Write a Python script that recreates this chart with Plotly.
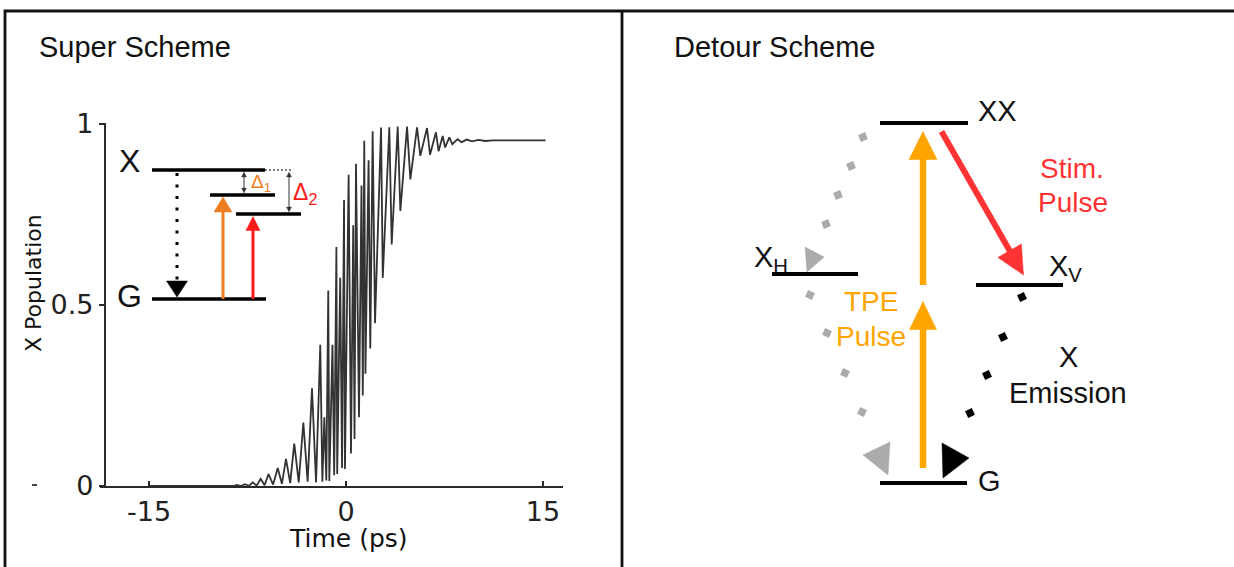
import numpy as np
import plotly.graph_objects as go

W, H = 1234, 567

# ---------------------------------------------------------------------------
# Data: X population during the SUPER pulse sequence (alternating maxima/minima)
# ---------------------------------------------------------------------------
time_ps = [
    -15.0, -8.6,
    -8.3, -8.0, -7.7, -7.4, -7.1, -6.8, -6.5, -6.2,
    -5.9, -5.55, -5.2, -4.88, -4.57, -4.25, -3.94, -3.6,
    -3.25, -2.92, -2.59, -2.28, -1.96, -1.8, -1.65, -1.5,
    -1.35, -1.27, -1.03, -0.9, -0.73, -0.67, -0.44, -0.3,
    -0.15, -0.08, 0.2, 0.38, 0.55, 0.65, 0.76, 0.99,
    1.18, 1.28, 1.39, 1.48, 1.72, 1.85, 2.03, 2.21,
    2.67, 2.8, 3.3, 3.48, 3.94, 4.14, 4.65, 4.9,
    5.41, 5.66, 6.17, 6.4, 6.85, 7.05, 7.36, 7.55,
    7.87, 8.1, 8.5, 8.8, 9.2, 9.6, 10.1, 10.6,
    11.2, 15.2,
]
x_population = [
    0.0, 0.0,
    0.003, 0.0, 0.005, 0.0, 0.01, 0.001, 0.02, 0.002,
    0.033, 0.004, 0.05, 0.006, 0.075, 0.008, 0.117, 0.01,
    0.175, 0.012, 0.27, 0.01, 0.39, 0.012, 0.19, 0.015,
    0.54, 0.014, 0.39, 0.03, 0.66, 0.033, 0.575, 0.05,
    0.79, 0.047, 0.86, 0.09, 0.72, 0.13, 0.89, 0.19,
    0.83, 0.25, 0.954, 0.31, 0.9, 0.38, 0.98, 0.45,
    0.99, 0.575, 0.991, 0.667, 0.993, 0.76, 0.993, 0.847,
    0.991, 0.912, 0.989, 0.915, 0.977, 0.925, 0.967, 0.935,
    0.963, 0.944, 0.958, 0.95, 0.957, 0.952, 0.956, 0.953,
    0.955, 0.955,
]

x_tick_vals = [-15, 0, 15]
x_tick_text = ["-15", "0", "15"]
y_tick_vals = [0, 0.5, 1]
y_tick_text = ["0", "0.5", "1"]

# ---------------------------------------------------------------------------
# Level-scheme geometry, in the overlay frame (1 unit = 1 px, y downwards)
# ---------------------------------------------------------------------------
super_levels = [(152, 265, 170), (210, 275, 195), (236, 301, 214), (152, 266, 299)]
detour_levels = [(880, 968, 123), (772, 858, 274), (976, 1063, 285), (880, 967, 483)]
# detuning brackets: x, top, bottom
detuning_gaps = [(244, 172, 193), (289, 172, 212)]

ORANGE_L = "#EE7D22"
RED_L = "#FF1A1A"
ORANGE_R = "#FFA500"
RED_R = "#FF3333"
GREY = "#ABABAB"

gray_dots_top = ([863, 851, 838, 826], [137, 166, 195, 224])
gray_dots_bottom = ([810, 827, 845, 862], [295, 333, 373, 412])
black_dots = ([1022, 1003, 987, 970], [297, 337, 375, 413])

gray_head_top = [(805, 247), (824, 257), (807, 272)]
gray_head_bottom = [(890, 442), (863, 455), (888, 475)]
black_head = [(942, 443), (969, 458), (943, 478)]

FONT_SANS = "Liberation Sans, Arial, sans-serif"
FONT_AXIS = "DejaVu Sans, Verdana, sans-serif"

fig = go.Figure()

fig.add_trace(go.Scatter(
    x=time_ps, y=x_population, mode="lines",
    line=dict(color="#333333", width=1.8),
    xaxis="x", yaxis="y", showlegend=False, hoverinfo="skip",
))

# dotted decay paths drawn as square dots
for (xs, ys), col, ang in [
    (gray_dots_top, GREY, -22),
    (gray_dots_bottom, GREY, 25),
    (black_dots, "black", -25),
]:
    fig.add_trace(go.Scatter(
        x=xs, y=ys, mode="markers", xaxis="x2", yaxis="y2",
        marker=dict(symbol="square", size=7.5, color=col, angle=ang, line=dict(width=0)),
        showlegend=False, hoverinfo="skip",
    ))

shapes = []


def hline(x0, x1, y, width, color="black", dash="solid"):
    shapes.append(dict(type="line", xref="x2", yref="y2", x0=x0, x1=x1, y0=y, y1=y,
                       line=dict(color=color, width=width, dash=dash)))


def tri(pts, color, lw=0.5):
    p = "M " + " L ".join(f"{x},{y}" for x, y in pts) + " Z"
    shapes.append(dict(type="path", xref="x2", yref="y2", path=p,
                       fillcolor=color, line=dict(color=color, width=lw)))


def arrow(x0, y0, x1, y1, color, width, head_len, head_w):
    d = np.array([x1 - x0, y1 - y0], float)
    u = d / np.linalg.norm(d)
    n = np.array([-u[1], u[0]])
    base = np.array([x1, y1]) - u * head_len
    shapes.append(dict(type="line", xref="x2", yref="y2", x0=x0, y0=y0,
                       x1=base[0] + u[0], y1=base[1] + u[1],
                       line=dict(color=color, width=width)))
    a = base + n * head_w / 2
    b = base - n * head_w / 2
    tri([(a[0], a[1]), (x1, y1), (b[0], b[1])], color)


# outer frame and panel divider
shapes.append(dict(type="rect", xref="x2", yref="y2", x0=5, y0=11, x1=1250, y1=620,
                   line=dict(color="#111", width=2.8)))
shapes.append(dict(type="line", xref="x2", yref="y2", x0=622, y0=11, x1=622, y1=620,
                   line=dict(color="#111", width=2.8)))

# left scheme
for x0, x1, y in super_levels:
    hline(x0, x1, y, 3.5)
hline(265, 293, 170, 1.3, color="#555", dash="2px,2px")
shapes.append(dict(type="line", xref="x2", yref="y2", x0=177, y0=173, x1=177, y1=282,
                   line=dict(color="black", width=3, dash="3px,8.5px")))
tri([(166.5, 281), (187.5, 281), (177, 297)], "black")
arrow(223, 299, 223, 197, ORANGE_L, 3, 15, 18)
arrow(253, 299, 253, 216.5, RED_L, 3, 14, 14)

# double-headed brackets marking the detunings
for xg, ya, yb in detuning_gaps:
    shapes.append(dict(type="line", xref="x2", yref="y2", x0=xg, x1=xg, y0=ya + 3,
                       y1=yb - 3, line=dict(color="#333", width=1)))
    tri([(xg - 2.5, ya + 5), (xg + 2.5, ya + 5), (xg, ya)], "#333", lw=0.3)
    tri([(xg - 2.5, yb - 5), (xg + 2.5, yb - 5), (xg, yb)], "#333", lw=0.3)

# right scheme
for x0, x1, y in detour_levels:
    hline(x0, x1, y, 4)
arrow(923, 285, 923, 131.5, ORANGE_R, 6.5, 28, 28)
arrow(923, 468, 923, 301.5, ORANGE_R, 6.5, 28, 27)
arrow(941.5, 131.5, 1023.5, 275, RED_R, 6, 28, 27)
tri(gray_head_top, GREY)
tri(gray_head_bottom, GREY)
tri(black_head, "black")

# stray tick mark at the lower left
shapes.append(dict(type="line", xref="x2", yref="y2", x0=32, y0=485, x1=37, y1=485,
                   line=dict(color="#444", width=2)))

annotations = []


def label(x, y, text, size, color="#111", family=FONT_SANS, xanchor="center",
          yanchor="middle", angle=0):
    annotations.append(dict(x=x, y=y, xref="x2", yref="y2", text=text, showarrow=False,
                            font=dict(size=size, color=color, family=family),
                            xanchor=xanchor, yanchor=yanchor, textangle=angle))


label(37, 47, "Super Scheme", 29, xanchor="left")
label(672, 47, "Detour Scheme", 29, xanchor="left")

label(129, 161, "X", 32)
label(129, 296, "G", 32)
label(249, 183, "Δ<sub>1</sub>", 19, color=ORANGE_L, xanchor="left")
label(291, 193, "Δ<sub>2</sub>", 23, color=RED_L, xanchor="left")

label(997, 111, "XX", 29)
label(752, 259, "X<sub>H</sub>", 29, xanchor="left")
label(1047, 268, "X<sub>V</sub>", 29, xanchor="left")
label(976, 481, "G", 29, xanchor="left")
label(1072, 168, "Stim.", 28, color=RED_R)
label(1073, 202, "Pulse", 28, color=RED_R)
label(871, 301, "TPE", 28, color=ORANGE_R)
label(871, 336, "Pulse", 28, color=ORANGE_R)
label(1068, 357, "X", 29)
label(1068, 393, "Emission", 29)

# axis titles
label(348, 538, "Time (ps)", 25, family=FONT_AXIS)
label(33, 283, "X Population", 22, family=FONT_AXIS, angle=-90)

x_lo, x_hi = 100, 563
y_top, y_bot = 123, 486
px_per_ps = 13.13
t0_px = 346

fig.update_layout(
    template="none",
    width=W, height=H,
    autosize=False,
    margin=dict(l=0, r=0, t=0, b=0, pad=0),
    paper_bgcolor="white", plot_bgcolor="rgba(0,0,0,0)",
    showlegend=False,
    xaxis=dict(
        domain=[x_lo / W, x_hi / W],
        range=[(x_lo - t0_px) / px_per_ps, (x_hi - t0_px) / px_per_ps],
        anchor="y", showline=True, linecolor="#2a2a2a", linewidth=2.2,
        ticks="inside", ticklen=5, tickwidth=2, tickcolor="#2a2a2a",
        tickvals=x_tick_vals, ticktext=x_tick_text,
        tickfont=dict(size=27, family=FONT_AXIS, color="#222"),
        showgrid=False, zeroline=False, automargin=False,
    ),
    yaxis=dict(
        domain=[1 - y_bot / H, 1 - y_top / H],
        range=[0, (486 - y_top) / 362],
        anchor="free", position=105 / W,
        showline=True, linecolor="#2a2a2a", linewidth=2.2,
        ticks="outside", ticklen=5, tickwidth=2, tickcolor="#2a2a2a",
        tickvals=y_tick_vals, ticktext=y_tick_text,
        tickfont=dict(size=27, family=FONT_AXIS, color="#222"),
        showgrid=False, zeroline=False, automargin=False,
    ),
    xaxis2=dict(domain=[0, 1], range=[0, W], anchor="y2", visible=False,
                showgrid=False, zeroline=False, automargin=False),
    yaxis2=dict(domain=[0, 1], range=[H, 0], anchor="x2", visible=False,
                showgrid=False, zeroline=False, automargin=False),
    shapes=shapes,
    annotations=annotations,
)

fig.write_html("out.html")
